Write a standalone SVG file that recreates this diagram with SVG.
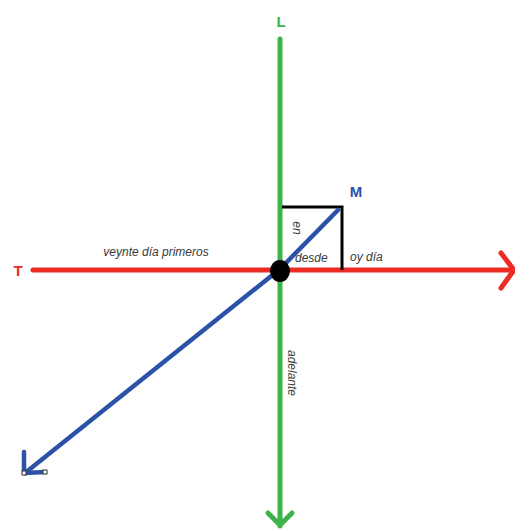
<svg xmlns="http://www.w3.org/2000/svg" width="515" height="530" viewBox="0 0 515 530">
<style>
.lbl{font-family:"Liberation Sans",Arial,sans-serif;font-style:italic;font-size:12px;fill:#3a3a3a}
.big{font-family:"Liberation Sans",Arial,sans-serif;font-weight:bold;font-size:15px}
.g{stroke:#3cb44a;stroke-width:5;fill:none;stroke-linecap:round;stroke-linejoin:round}
.r{stroke:#ec2b25;stroke-width:5;fill:none;stroke-linecap:round;stroke-linejoin:round}
.b{stroke:#2b52a6;stroke-width:4.5;fill:none;stroke-linecap:round;stroke-linejoin:round}
.k{stroke:#000;stroke-width:3;fill:none}
.h{fill:#fff;stroke:#333;stroke-width:1}
</style>
<rect width="515" height="530" fill="#fff"/>
<g id="connectors">
<polyline class="g" points="280,39 280,526"/>
<polyline class="g" points="268,513 280,525 292,513"/>
<polyline class="r" points="33,270 512,270"/>
<polyline class="r" points="501,253 514,270 501,288"/>
<polyline class="k" points="282,207 342,207 342,270"/>
<polyline class="b" points="338,210 280,269 25,473"/>
<polyline class="b" points="24,452 24,473 45,472"/>
<rect class="h" x="22" y="471" width="4" height="4"/>
<rect class="h" x="43" y="470" width="4" height="4"/>
</g>
<g id="node-center"><ellipse cx="280" cy="271" rx="10" ry="11" fill="#000"/></g>
<g id="node-L"><text class="big" x="281" y="27" text-anchor="middle" fill="#3cb44a">L</text></g>
<g id="node-T"><text class="big" x="18" y="276" text-anchor="middle" fill="#ec2b25">T</text></g>
<g id="node-M"><text class="big" x="356" y="197" text-anchor="middle" fill="#2b52a6">M</text></g>
<g id="labels">
<text class="lbl" x="156" y="256" text-anchor="middle">veynte día primeros</text>
<text class="lbl" x="295" y="262">desde</text>
<text class="lbl" x="350" y="261">oy día</text>
<text class="lbl" transform="translate(293,228) rotate(90)" text-anchor="middle">en</text>
<text class="lbl" transform="translate(288,373) rotate(90)" text-anchor="middle">adelante</text>
</g>
</svg>
